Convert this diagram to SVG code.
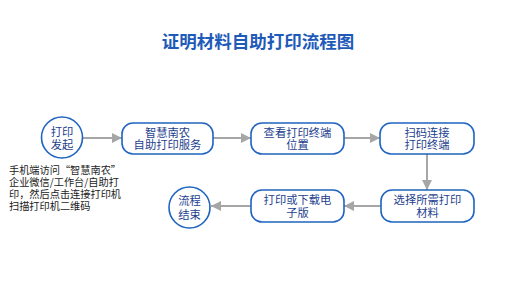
<svg xmlns="http://www.w3.org/2000/svg" width="527" height="298" viewBox="0 0 527 298">
<defs>
<marker id="ah" viewBox="0 0 10 10" refX="10" refY="5" markerWidth="10" markerHeight="10" markerUnits="userSpaceOnUse" orient="auto">
<path d="M0,0 L10,5 L0,10 z" fill="#a6a6a6"/>
</marker>
<style>
.box{fill:#fff;stroke:#1f64c0;stroke-width:1.6}
.t{font-family:"Noto Sans CJK SC","Noto Sans",sans-serif;font-size:11.3px;fill:#1d3f8f;text-anchor:middle}
.c{stroke:#a6a6a6;stroke-width:2;fill:none;marker-end:url(#ah)}
.note{font-family:"Noto Sans CJK SC","Noto Sans",sans-serif;font-size:10.2px;fill:#222}
</style>
</defs>
<rect width="527" height="298" fill="#fff"/>
<text x="258" y="47.5" font-family="Noto Sans CJK SC,sans-serif" font-size="17.5" font-weight="bold" fill="#1e5bb8" text-anchor="middle">证明材料自助打印流程图</text>
<g id="connectors">
<line class="c" x1="83" y1="138" x2="122" y2="138"/>
<line class="c" x1="213" y1="138" x2="251" y2="138"/>
<line class="c" x1="344" y1="138" x2="380" y2="138"/>
<line class="c" x1="427" y1="154" x2="427" y2="190"/>
<line class="c" x1="381" y1="206" x2="344" y2="206"/>
<line class="c" x1="251" y1="206" x2="211" y2="206"/>
</g>
<g id="start">
<circle class="box" cx="62" cy="137.5" r="20.5"/>
<text class="t"><tspan x="62" y="136">打印</tspan><tspan x="62" y="149">发起</tspan></text>
</g>
<g id="n1">
<rect class="box" x="122" y="123" width="91" height="31" rx="11"/>
<text class="t"><tspan x="167.5" y="137">智慧南农</tspan><tspan x="167.5" y="149">自助打印服务</tspan></text>
</g>
<g id="n2">
<rect class="box" x="251" y="123" width="93" height="31" rx="11"/>
<text class="t"><tspan x="297.5" y="137">查看打印终端</tspan><tspan x="297.5" y="149">位置</tspan></text>
</g>
<g id="n3">
<rect class="box" x="380" y="123" width="94" height="31" rx="11"/>
<text class="t"><tspan x="427" y="137">扫码连接</tspan><tspan x="427" y="149">打印终端</tspan></text>
</g>
<g id="n4">
<rect class="box" x="381" y="190" width="93" height="32" rx="11"/>
<text class="t"><tspan x="427.5" y="204">选择所需打印</tspan><tspan x="427.5" y="217">材料</tspan></text>
</g>
<g id="n5">
<rect class="box" x="251" y="190" width="93" height="32" rx="11"/>
<text class="t"><tspan x="297.5" y="204">打印或下载电</tspan><tspan x="297.5" y="217">子版</tspan></text>
</g>
<g id="end">
<circle class="box" cx="189.5" cy="207.5" r="20.5"/>
<text class="t"><tspan x="189.5" y="205">流程</tspan><tspan x="189.5" y="218.5">结束</tspan></text>
</g>
<g id="note">
<text class="note"><tspan x="9" y="174">手机端访问“智慧南农”</tspan><tspan x="9" y="186">企业微信/工作台/自助打</tspan><tspan x="9" y="198">印，然后点击连接打印机</tspan><tspan x="9" y="210">扫描打印机二维码</tspan></text>
</g>
</svg>
